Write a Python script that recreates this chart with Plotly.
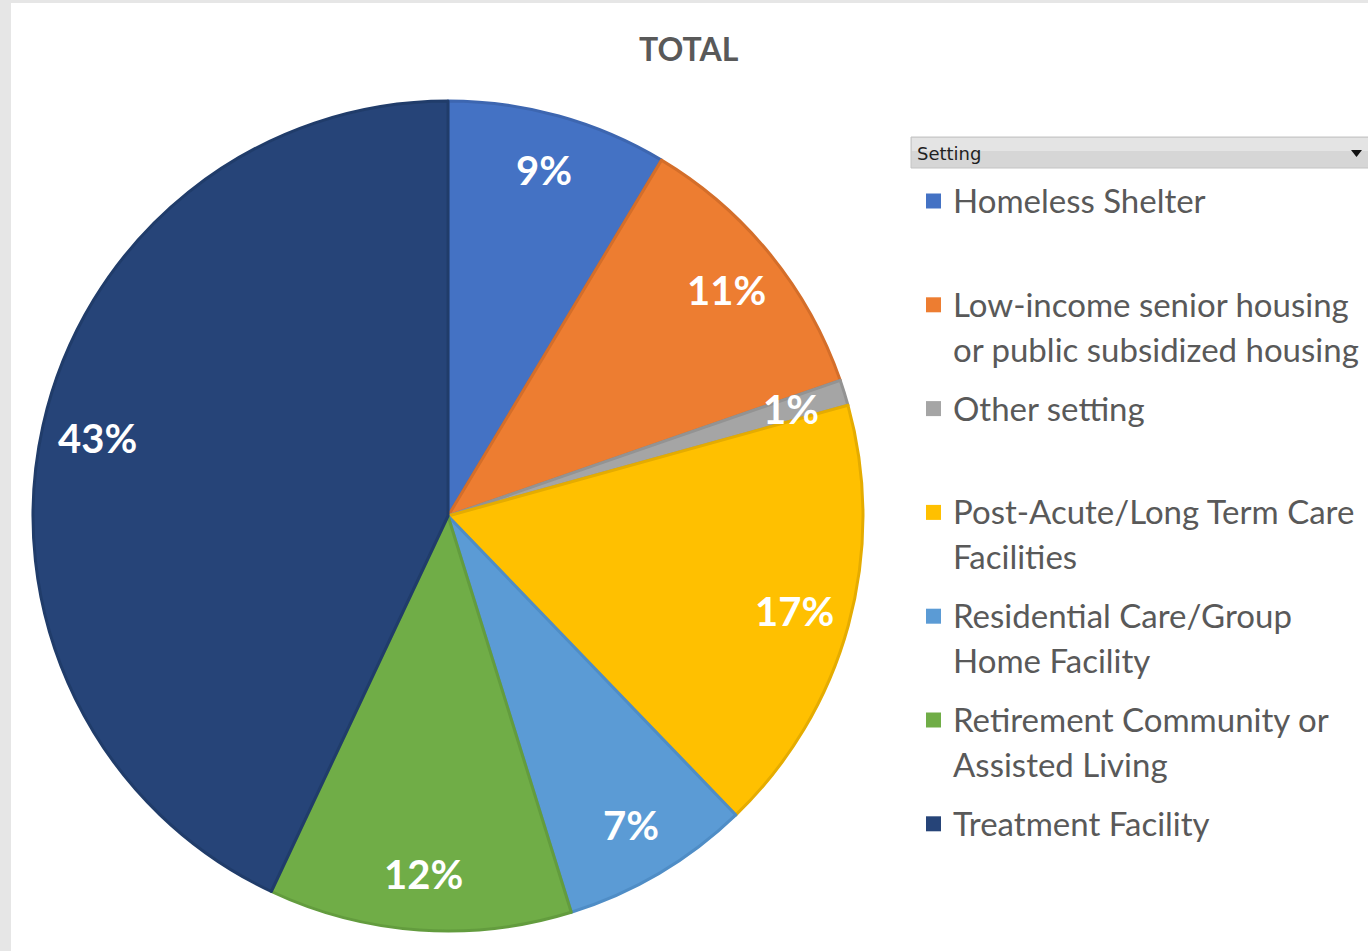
import math
import plotly.graph_objects as go

W, H = 1368, 951

categories = [
    "Homeless Shelter",
    "Low-income senior housing or public subsidized housing",
    "Other setting",
    "Post-Acute/Long Term Care Facilities",
    "Residential Care/Group Home Facility",
    "Retirement Community or Assisted Living",
    "Treatment Facility",
]
legend_lines = [
    ["Homeless Shelter"],
    ["Low-income senior housing", "or public subsidized housing"],
    ["Other setting"],
    ["Post-Acute/Long Term Care", "Facilities"],
    ["Residential Care/Group", "Home Facility"],
    ["Retirement Community or", "Assisted Living"],
    ["Treatment Facility"],
]
values = [8.6, 11.1, 1.0, 17.1, 7.4, 11.8, 43.0]
colors = ["#4472C4", "#ED7D31", "#A5A5A5", "#FFC000", "#5B9BD5", "#70AD47", "#264478"]
edge_colors = ["#3D66B0", "#D46E2A", "#939393", "#E5AC00", "#4F8DC6", "#639C3E", "#203C6A"]

title_text = "TOTAL"
legend_title = "Setting"

# geometry (pixels)
cx, cy, R = 448, 516, 415


def px_x(x):
    return x / W


def px_y(y):
    return 1 - y / H


fig = go.Figure()
fig.add_trace(go.Pie(
    labels=categories,
    values=values,
    sort=False,
    direction="clockwise",
    rotation=0,
    marker=dict(colors=colors, line=dict(color=edge_colors, width=3)),
    textinfo="none",
    hoverinfo="label+percent",
    showlegend=False,
    domain=dict(x=[px_x(cx - R), px_x(cx + R)], y=[px_y(cy + R), px_y(cy - R)]),
))

annotations = []
shapes = []

# background strips (gray frame at left and top)
shapes.append(dict(type="rect", xref="paper", yref="paper", x0=0, x1=1, y0=0, y1=1,
                   fillcolor="#E6E6E6", line=dict(width=0), layer="below"))
shapes.append(dict(type="rect", xref="paper", yref="paper", x0=px_x(11), x1=1.01, y0=-0.01, y1=px_y(3),
                   fillcolor="#FFFFFF", line=dict(width=0), layer="below"))

# percent labels computed from the data
total = sum(values)
cum = 0.0
for v in values:
    theta = (cum + v / 2) / total * 2 * math.pi
    cum += v
    r = 0.865 * R
    x = cx + r * math.sin(theta)
    y = cy - r * math.cos(theta)
    annotations.append(dict(
        x=px_x(x), y=px_y(y), xref="paper", yref="paper",
        text=f"{round(v / total * 100)}%", showarrow=False,
        xanchor="center", yanchor="middle",
        font=dict(family="Lato", size=40, color="white", weight="bold"),
    ))

# title
annotations.append(dict(
    x=px_x(689), y=px_y(48), xref="paper", yref="paper", text=title_text,
    showarrow=False, xanchor="center", yanchor="middle",
    font=dict(family="Lato", size=32, color="#595959", weight="bold"),
))

# legend header bar
shapes.append(dict(type="rect", xref="paper", yref="paper",
                   x0=px_x(911), x1=px_x(1372), y0=px_y(168), y1=px_y(137),
                   fillcolor="#D6D6D6", line=dict(color="#C4C4C4", width=1)))
shapes.append(dict(type="rect", xref="paper", yref="paper",
                   x0=px_x(912), x1=px_x(1372), y0=px_y(151), y1=px_y(138),
                   fillcolor="#E4E4E4", line=dict(width=0)))
annotations.append(dict(
    x=px_x(915), y=px_y(153), xref="paper", yref="paper", text=legend_title,
    showarrow=False, xanchor="left", yanchor="middle",
    font=dict(family="DejaVu Sans", size=18, color="#1F1F1F"),
))
shapes.append(dict(type="path", xref="paper", yref="paper",
                   path=f"M {px_x(1351)} {px_y(150)} L {px_x(1362)} {px_y(150)} L {px_x(1356.5)} {px_y(157)} Z",
                   fillcolor="#111111", line=dict(width=0)))

# custom legend
pitch = 103.8
for i, (lines, col) in enumerate(zip(legend_lines, colors)):
    y0 = 200 + i * pitch
    shapes.append(dict(type="rect", xref="paper", yref="paper",
                       x0=px_x(926), x1=px_x(941), y0=px_y(y0 + 8.5), y1=px_y(y0 - 6.5),
                       fillcolor=col, line=dict(width=0)))
    for j, line in enumerate(lines):
        annotations.append(dict(
            x=px_x(951), y=px_y(y0 + j * 45), xref="paper", yref="paper", text=line,
            showarrow=False, xanchor="left", yanchor="middle",
            font=dict(family="Lato", size=33, color="#595959"),
        ))

fig.update_layout(
    width=W, height=H,
    margin=dict(l=0, r=0, t=0, b=0),
    paper_bgcolor="#FFFFFF",
    plot_bgcolor="#FFFFFF",
    shapes=shapes,
    annotations=annotations,
    showlegend=False,
)

fig.write_html("out.html",
               config={"displayModeBar": False},
               post_script="document.body.style.margin='0px';document.body.style.overflow='hidden';")
